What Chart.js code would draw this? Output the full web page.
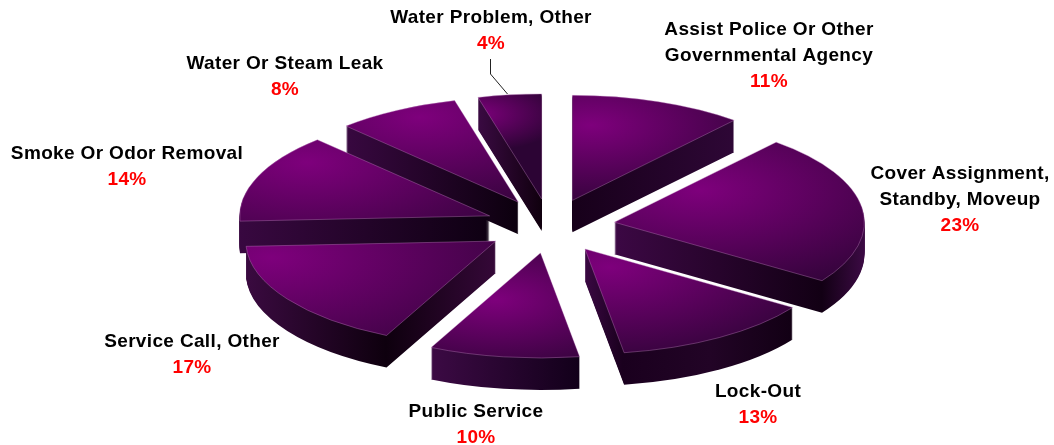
<!DOCTYPE html>
<html>
<head>
<meta charset="utf-8">
<style>
    html, body { margin: 0; padding: 0; background: #fff; }
    canvas { display: block; }
</style>
<script src="https://cdn.jsdelivr.net/npm/chart.js@4/dist/chart.umd.js"></script>
</head>
<body>
<canvas id="pieChart" width="1054" height="445"></canvas>
<script>
const categories = [
    ['Assist Police Or Other', 'Governmental Agency'],
    ['Cover Assignment,', 'Standby, Moveup'],
    ['Lock-Out'],
    ['Public Service'],
    ['Service Call, Other'],
    ['Smoke Or Odor Removal'],
    ['Water Or Steam Leak'],
    ['Water Problem, Other']
];
// read from the slice edges, the labels show them rounded
const shares = [11.2, 23.2, 13.1, 9.7, 17, 13.7, 8, 4.1];

// label block: centre x, middle y of first line
const labelAnchors = [[769, 30], [960, 174], [758, 392], [476, 412], [192, 342], [127, 154], [285, 64], [491, 18]];

// top face glow per slice: degrees clockwise from 12 o'clock, fraction of radius, gradient radius
const glowSpots = [[6, 0.72, 210], [48, 0.46, 275], [150, 0.2, 250], [202, 0.48, 195], [260, 0.91, 320], [305, 0.89, 275], [334, 0.9, 260], [342, 0.85, 90]];

// wall shading per slice, left to right across the slice
const wallStops = [
    [[0, '#17001a'], [1, '#2e0736']],
    [[0, '#3c0844'], [0.83, '#120014'], [1, '#3c0a44']],
    [[0, '#3a0842'], [0.18, '#1a001e'], [0.6, '#220426'], [1, '#120014']],
    [[0, '#3c0a44'], [1, '#12001a']],
    [[0, '#3a0a40'], [0.56, '#0e000e'], [1, '#350838']],
    [[0, '#380840'], [1, '#0e0012']],
    [[0, '#380840'], [1, '#0c000e']],
    [[0, '#3a0a42'], [1, '#10000e']]
];

const radius = 250;
const squash = 0.42;
const explode = 65;
const depth = 32;
const centerX = 550;
const centerY = 226;

function glowFill(context) {
    const spot = glowSpots[context.dataIndex];
    if (!spot) return '#7e007c';
    const a = spot[0] * Math.PI / 180;
    const x = centerX + Math.sin(a) * spot[1] * radius;
    const y = centerY - Math.cos(a) * spot[1] * radius;
    const g = context.chart.ctx.createRadialGradient(x, y, 0, x, y, spot[2]);
    g.addColorStop(0, '#7e007c');
    g.addColorStop(1, '#2c0434');
    return g;
}

function wallFill(ctx, arc, index) {
    // horizontal extent of the slice before it is pulled out
    const xs = [arc.x, arc.x + Math.cos(arc.startAngle) * radius, arc.x + Math.cos(arc.endAngle) * radius];
    if (arc.startAngle < 0 && arc.endAngle > 0) xs.push(arc.x + radius);
    if (arc.startAngle < Math.PI && arc.endAngle > Math.PI) xs.push(arc.x - radius);
    const g = ctx.createLinearGradient(Math.min(...xs), 0, Math.max(...xs), 0);
    wallStops[index].forEach(s => g.addColorStop(s[0], s[1]));
    return g;
}

const tiltedPie = {
    id: 'tiltedPie',
    beforeDatasetDraw(chart, args) {
        const ctx = chart.ctx;
        const arcs = args.meta.data.map((arc, i) => ({ arc, i, mid: (arc.startAngle + arc.endAngle) / 2 }));
        // back slices first so the front ones cover them
        arcs.sort((a, b) => Math.sin(a.mid) - Math.sin(b.mid));

        arcs.forEach(({ arc, i, mid }) => {
            const topOptions = arc.options;
            ctx.save();
            ctx.translate(arc.x, arc.y);
            ctx.scale(1, squash);
            ctx.translate(-arc.x, -arc.y);
            ctx.translate(Math.cos(mid) * explode, Math.sin(mid) * explode);

            const wall = wallFill(ctx, arc, i);
            arc.options = { ...topOptions, backgroundColor: wall, borderWidth: 0 };
            for (let d = depth; d >= 1; d--) {
                ctx.save();
                ctx.translate(0, d / squash);
                arc.draw(ctx);
                ctx.restore();
            }
            arc.options = topOptions;
            arc.draw(ctx);
            ctx.restore();
        });
        return false;
    },
    afterDraw(chart) {
        const ctx = chart.ctx;
        // leader for the small slice
        ctx.save();
        ctx.strokeStyle = '#222';
        ctx.lineWidth = 1;
        ctx.beginPath();
        ctx.moveTo(490.5, 59);
        ctx.lineTo(490.5, 74);
        ctx.lineTo(507.5, 94);
        ctx.stroke();

        ctx.textAlign = 'center';
        ctx.textBaseline = 'middle';
        ctx.font = 'bold 19px "Liberation Sans", Arial, sans-serif';
        ctx.letterSpacing = '0.35px';
        categories.forEach((lines, i) => {
            const [x, y] = labelAnchors[i];
            ctx.fillStyle = '#000';
            lines.forEach((line, n) => ctx.fillText(line, x, y + n * 26));
            ctx.fillStyle = '#ff0000';
            ctx.fillText(Math.round(shares[i]) + '%', x, y + lines.length * 26);
        });
        ctx.restore();
    }
};

new Chart(document.getElementById('pieChart'), {
    type: 'pie',
    data: {
        labels: categories.map(l => l.join(' ')),
        datasets: [{
            data: shares,
            radius: radius,
            backgroundColor: glowFill,
            borderColor: 'rgba(190, 130, 190, 0.55)',
            borderWidth: 1
        }]
    },
    options: {
        responsive: false,
        animation: false,
        layout: { padding: { left: 46, top: 7 } },
        plugins: {
            legend: { display: false },
            tooltip: { enabled: false }
        }
    },
    plugins: [tiltedPie]
});
</script>
</body>
</html>
